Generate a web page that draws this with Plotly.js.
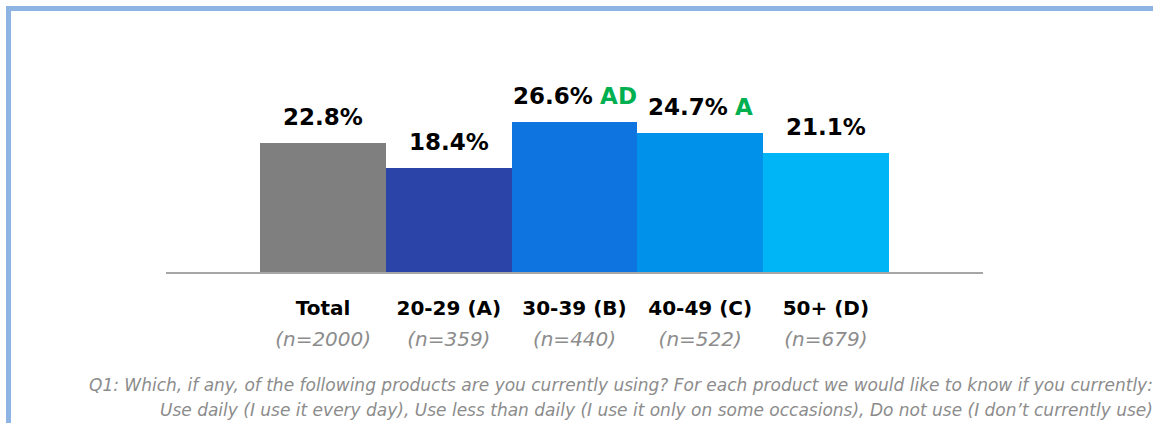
<!DOCTYPE html>
<html>
<head>
<meta charset="utf-8">
<script src="https://cdn.plot.ly/plotly-3.0.1.min.js"></script>
<style>
html,body{margin:0;padding:0;background:#fff;}
#chart{width:1153px;height:423px;}
</style>
</head>
<body>
<div id="chart"></div>
<script>
// ---- data ----
const categories = ["Total", "20-29 (A)", "30-39 (B)", "40-49 (C)", "50+ (D)"];
const sampleSizes = ["(n=2000)", "(n=359)", "(n=440)", "(n=522)", "(n=679)"];
const values = [22.8, 18.4, 26.6, 24.7, 21.1];
const sigLetters = ["", "", "AD", "A", ""];
const footnoteLines = [
  "Q1: Which, if any, of the following products are you currently using? For each product we would like to know if you currently:",
  "Use daily (I use it every day), Use less than daily (I use it only on some occasions), Do not use (I don\u2019t currently use)"
];

// ---- styles ----
const barColors = ["#7F7F7F", "#2A44A8", "#0E75E0", "#0091EB", "#00B5F5"];
const sigColor = "#00B050";
const labelFont = "DejaVu Sans, sans-serif";
const footnoteShifts = [-101, -126];

const ticktext = categories.map((c, i) =>
  `<span style="font-size:20px;font-weight:bold">${c}</span><br>` +
  `<span style="font-size:20px;font-style:italic;fill:#8C8C8C;color:#8C8C8C">${sampleSizes[i]}</span>`
);

const valueAnnotations = categories.map((c, i) => ({
  x: c, y: values[i], xref: "x", yref: "y",
  xanchor: "center", yanchor: "bottom", yshift: 11,
  showarrow: false,
  text: `<b>${values[i].toFixed(1)}%</b>` + (sigLetters[i] ? ` <b><span style="color:${sigColor}">${sigLetters[i]}</span></b>` : ""),
  font: {family: labelFont, size: 23, color: "#000000"}
}));

const footnotes = footnoteLines.map((t, i) => ({
  xref: "paper", yref: "paper", x: 1.2105, y: 0, yshift: footnoteShifts[i],
  xanchor: "right", yanchor: "top", align: "right", showarrow: false,
  text: `<i>${t}</i>`,
  font: {family: "DejaVu Sans, sans-serif", size: 17, color: "#8C8C8C"}
}));

const trace = {
  type: "bar",
  x: categories,
  y: values,
  marker: {color: barColors, line: {width: 0}},
  hoverinfo: "skip"
};

const px2x = p => (p - 166) / 817;
const px2y = p => (272 - p) / 170;
const frameStyle = {color: "#8DB4E2", width: 5};

const layout = {
  width: 1153, height: 423,
  margin: {l: 166, r: 170, t: 102, b: 151, pad: 0},
  paper_bgcolor: "#ffffff", plot_bgcolor: "#ffffff",
  showlegend: false,
  bargap: 0,
  xaxis: {
    type: "category",
    range: [-1.25, 5.25],
    tickmode: "array", tickvals: categories, ticktext: ticktext,
    tickfont: {family: labelFont, size: 24, color: "#000000"},
    ticks: "", ticklabelstandoff: 12,
    showgrid: false, zeroline: false,
    showline: true, linecolor: "#A6A6A6", linewidth: 2
  },
  yaxis: {visible: false, range: [0, 30.1], showgrid: false, zeroline: false},
  annotations: valueAnnotations.concat(footnotes),
  shapes: [
    {type: "line", xref: "paper", yref: "paper",
     x0: px2x(8.5), x1: px2x(1200), y0: px2y(8.5), y1: px2y(8.5),
     line: frameStyle, layer: "above"},
    {type: "line", xref: "paper", yref: "paper",
     x0: px2x(8.5), x1: px2x(8.5), y0: px2y(6), y1: px2y(500),
     line: frameStyle, layer: "above"}
  ]
};

Plotly.newPlot("chart", [trace], layout, {staticPlot: true, displayModeBar: false});
</script>
</body>
</html>
